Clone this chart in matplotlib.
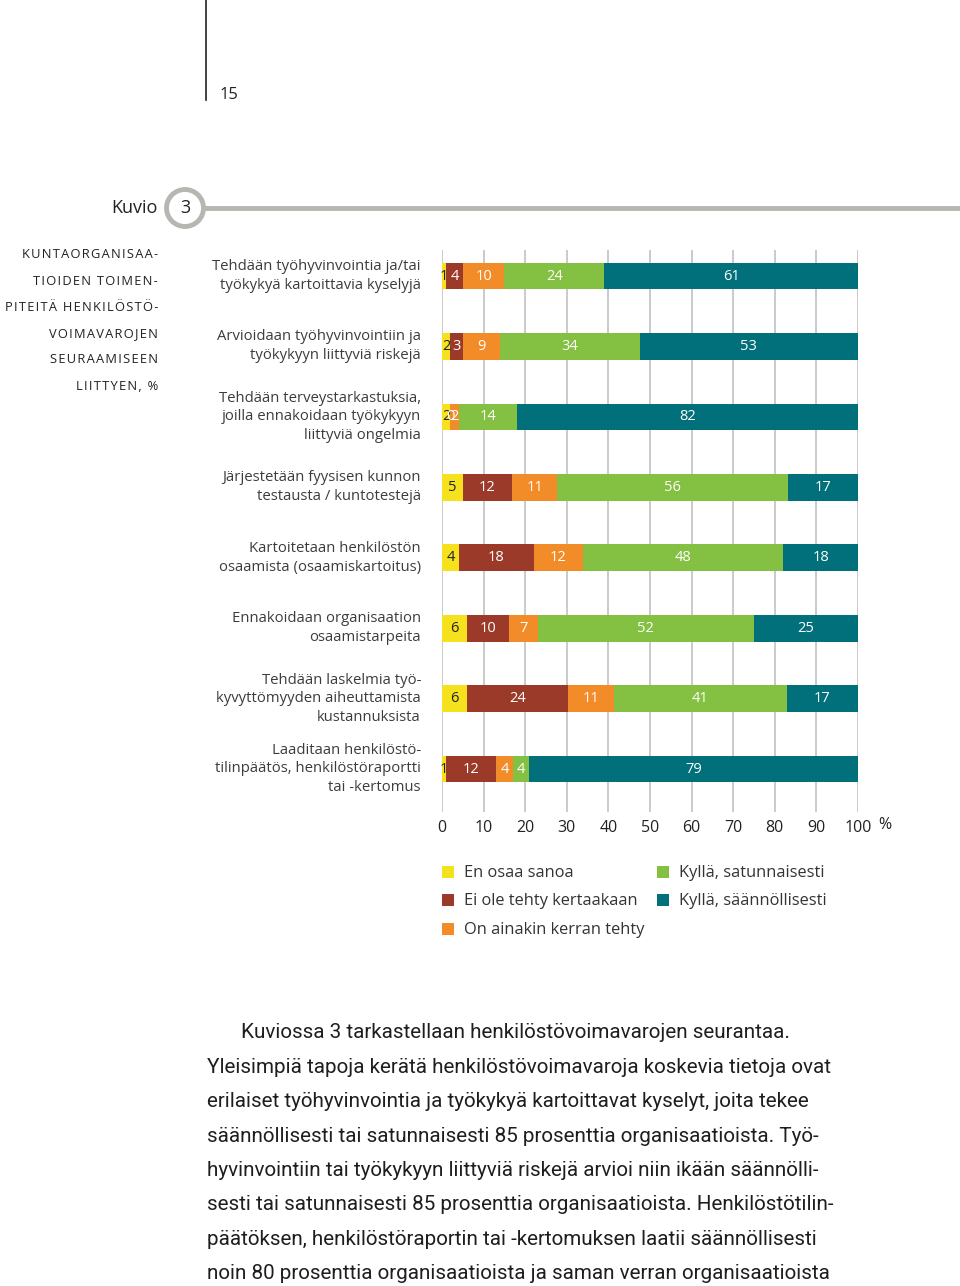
import matplotlib
matplotlib.use("Agg")
import matplotlib.pyplot as plt
from matplotlib.patches import Circle, Rectangle
import numpy as np

plt.rcParams['font.family'] = ['Open Sans', 'DejaVu Sans']

categories = [
    "Tehdään työhyvinvointia ja/tai\ntyökykyä kartoittavia kyselyjä",
    "Arvioidaan työhyvinvointiin ja\ntyökykyyn liittyviä riskejä",
    "Tehdään terveystarkastuksia,\njoilla ennakoidaan työkykyyn\nliittyviä ongelmia",
    "Järjestetään fyysisen kunnon\ntestausta / kuntotestejä",
    "Kartoitetaan henkilöstön\nosaamista (osaamiskartoitus)",
    "Ennakoidaan organisaation\nosaamistarpeita",
    "Tehdään laskelmia työ-\nkyvyttömyyden aiheuttamista\nkustannuksista",
    "Laaditaan henkilöstö-\ntilinpäätös, henkilöstöraportti\ntai -kertomus",
]
series_names = ["En osaa sanoa", "Ei ole tehty kertaakaan", "On ainakin kerran tehty",
                "Kyllä, satunnaisesti", "Kyllä, säännöllisesti"]
en_osaa = [1, 2, 2, 5, 4, 6, 6, 1]
ei_ole = [4, 3, 0, 12, 18, 10, 24, 12]
kerran = [10, 9, 2, 11, 12, 7, 11, 4]
satunn = [24, 34, 14, 56, 48, 52, 41, 4]
saann = [61, 53, 82, 17, 18, 25, 17, 79]
xticks = [0, 10, 20, 30, 40, 50, 60, 70, 80, 90, 100]

colors = ["#f5e11e", "#9c3a2a", "#f28c28", "#84c041", "#01707a"]
label_colors = ["#222222", "white", "white", "white", "white"]

W, H = 960, 1286
fig = plt.figure(figsize=(W / 100, H / 100), dpi=100)

def P(x, y):
    return (x / W, 1 - y / H)

# chart axes
ax_l, ax_r, ax_t, ax_b = 442, 858, 250, 812
ax = fig.add_axes([ax_l / W, 1 - ax_b / H, (ax_r - ax_l) / W, (ax_b - ax_t) / H])
data = np.array([en_osaa, ei_ole, kerran, satunn, saann], dtype=float)
totals = data.sum(axis=0)
widths = data / totals * 100
y = np.arange(len(categories))
left = np.zeros(len(categories))
for i in range(5):
    ax.barh(y, widths[i], left=left, height=0.38, color=colors[i], zorder=3)
    for j in range(len(categories)):
        ax.text(left[j] + widths[i][j] / 2, y[j], f"{int(data[i][j])}", ha='center', va='center',
                color=label_colors[i], fontsize=10.5, zorder=4)
    left += widths[i]

ax.set_xlim(0, 100)
ax.set_ylim(7.61, -0.37)
ax.set_xticks(xticks)
ax.set_xticklabels([str(t) for t in xticks])
ax.set_yticks([])
ax.tick_params(axis='x', length=0, pad=6, labelsize=11.5, labelcolor="#222222")
for s in ax.spines.values():
    s.set_visible(False)
ax.grid(axis='x', color="#bcbcbc", linewidth=1.1, zorder=0)
ax.set_axisbelow(True)
fig.text(*P(878, 825), "%", ha='left', va='center', fontsize=11.5, color="#222222")

# category labels
row_px = [276, 346, 417, 487, 558, 628, 699, 769]
for cat, yp in zip(categories, row_px):
    fig.text(*P(421, yp), cat, ha='right', va='center', fontsize=10.7, color="#3c3c3c",
             linespacing=1.34)

# header: page number
fig.add_artist(plt.Line2D([206 / W, 206 / W], [1 - 0 / H, 1 - 100 / H], color="#222222", lw=1.2))
fig.text(*P(220, 95), "15", ha='left', va='center', fontsize=12, color="#222222")

# Kuvio badge
fig.text(*P(158, 208), "Kuvio", ha='right', va='center', fontsize=13, color="#222222")
fig.add_artist(plt.Line2D([204 / W, 1.0], [1 - 208 / H, 1 - 208 / H], color="#b4b8b0", lw=3.5))
cax = fig.add_axes([(185 - 25) / W, 1 - (208 + 25) / H, 50 / W, 50 / H])
cax.set_xlim(-25, 25)
cax.set_ylim(-25, 25)
cax.axis('off')
cax.add_patch(Circle((0, 0), 18.5, facecolor="white", edgecolor="#b4b8b0", linewidth=3.5))
cax.text(0, 0, "3", ha='center', va='center', fontsize=13, color="#222222")

# left title
title_lines = ["KUNTAORGANISAA-", "TIOIDEN TOIMEN-", "PITEITÄ HENKILÖSTÖ-",
               "VOIMAVAROJEN", "SEURAAMISEEN", "LIITTYEN, %"]
for k, t in enumerate(title_lines):
    fig.text(*P(158, 255 + k * 26.2), "\u200a".join(t), ha='right', va='center', fontsize=9.3,
             color="#222222")

# legend
leg_items = [(0, 442, 872), (1, 442, 900), (2, 442, 929), (3, 657, 872), (4, 657, 900)]
for idx, xs, ys in leg_items:
    fig.add_artist(Rectangle(P(xs, ys + 6), 12 / W, 12 / H, transform=fig.transFigure,
                             facecolor=colors[idx], edgecolor='none'))
    fig.text(*P(xs + 22, ys + 1), series_names[idx], ha='left', va='center', fontsize=11.8,
             color="#333333")

# paragraph
para = [
    "Kuviossa 3 tarkastellaan henkilöstövoimavarojen seurantaa.",
    "Yleisimpiä tapoja kerätä henkilöstövoimavaroja koskevia tietoja ovat",
    "erilaiset työhyvinvointia ja työkykyä kartoittavat kyselyt, joita tekee",
    "säännöllisesti tai satunnaisesti 85 prosenttia organisaatioista. Työ-",
    "hyvinvointiin tai työkykyyn liittyviä riskejä arvioi niin ikään säännölli-",
    "sesti tai satunnaisesti 85 prosenttia organisaatioista. Henkilöstötilin-",
    "päätöksen, henkilöstöraportin tai -kertomuksen laatii säännöllisesti",
    "noin 80 prosenttia organisaatioista ja saman verran organisaatioista",
]
for k, line in enumerate(para):
    xs = 241 if k == 0 else 207
    fig.text(*P(xs, 1033 + k * 34.4), line, ha='left', va='center', fontsize=14.85,
             color="#1e1e1e", family=['Roboto', 'DejaVu Sans'])

fig.savefig("out.png", dpi=100, facecolor="white")
